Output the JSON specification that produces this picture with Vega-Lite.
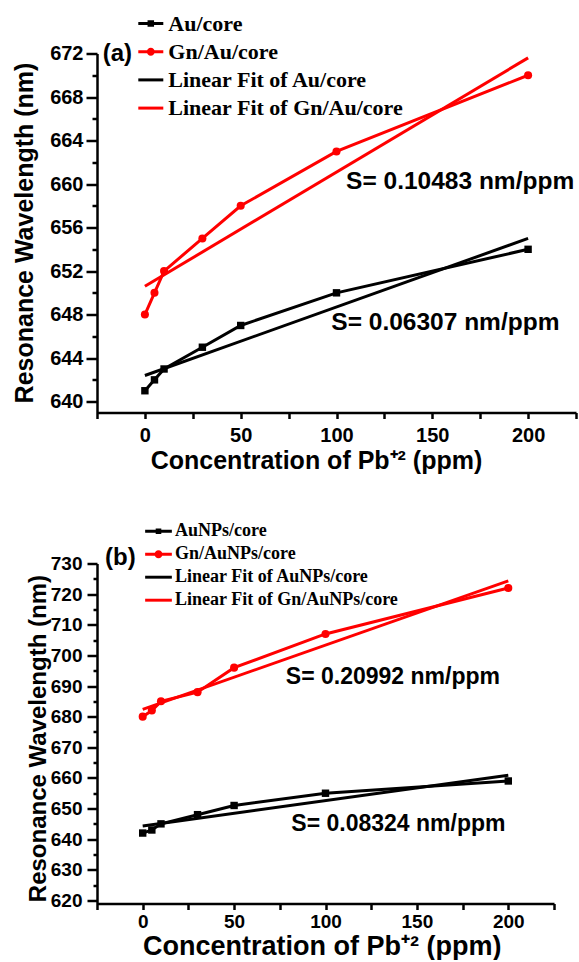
{
  "$schema": "https://vega.github.io/schema/vega-lite/v6.json",
  "background": "white",
  "padding": {"left": 12, "top": 10.5, "right": 0, "bottom": 0},
  "config": {
    "view": {"stroke": null},
    "axis": {"grid": false, "domainColor": "black", "domainWidth": 2.5, "tickColor": "black", "tickWidth": 2.5, "labelColor": "black", "labelFont": "Liberation Sans", "labelFontWeight": "bold", "titleColor": "black", "titleFont": "Liberation Sans", "titleFontWeight": "bold", "labelFlush": false, "labelOverlap": false},
    "legend": {"labelFont": "Liberation Serif", "labelFontWeight": "bold", "labelColor": "black", "padding": 0, "symbolStrokeWidth": 0, "symbolOpacity": 1, "labelLimit": 400}
  },
  "datasets": {
    "a_meas": [
      {"series": "Au/core", "conc": 0, "wl": 641}, {"series": "Au/core", "conc": 5, "wl": 642}, {"series": "Au/core", "conc": 10, "wl": 643}, {"series": "Au/core", "conc": 30, "wl": 645}, {"series": "Au/core", "conc": 50, "wl": 647}, {"series": "Au/core", "conc": 100, "wl": 650}, {"series": "Au/core", "conc": 200, "wl": 654},
      {"series": "Gn/Au/core", "conc": 0, "wl": 648}, {"series": "Gn/Au/core", "conc": 5, "wl": 650}, {"series": "Gn/Au/core", "conc": 10, "wl": 652}, {"series": "Gn/Au/core", "conc": 30, "wl": 655}, {"series": "Gn/Au/core", "conc": 50, "wl": 658}, {"series": "Gn/Au/core", "conc": 100, "wl": 663}, {"series": "Gn/Au/core", "conc": 200, "wl": 670}
    ],
    "a_fit": [
      {"series": "Linear Fit of Au/core", "conc": 0, "wl": 642.4}, {"series": "Linear Fit of Au/core", "conc": 200, "wl": 655.0},
      {"series": "Linear Fit of Gn/Au/core", "conc": 0, "wl": 650.6}, {"series": "Linear Fit of Gn/Au/core", "conc": 200, "wl": 671.6}
    ],
    "a_legend": [{"series": "Au/core"}, {"series": "Gn/Au/core"}, {"series": "Linear Fit of Au/core"}, {"series": "Linear Fit of Gn/Au/core"}],
    "a_slope": [{"label": "S= 0.10483 nm/ppm", "conc": 105, "wl": 660.2}, {"label": "S= 0.06307 nm/ppm", "conc": 97.3, "wl": 647.2}],
    "a_tag": [{"label": "(a)", "conc": -22, "wl": 672}],
    "b_meas": [
      {"series": "AuNPs/core", "conc": 0, "wl": 642}, {"series": "AuNPs/core", "conc": 5, "wl": 643}, {"series": "AuNPs/core", "conc": 10, "wl": 645}, {"series": "AuNPs/core", "conc": 30, "wl": 648}, {"series": "AuNPs/core", "conc": 50, "wl": 651}, {"series": "AuNPs/core", "conc": 100, "wl": 655}, {"series": "AuNPs/core", "conc": 200, "wl": 659},
      {"series": "Gn/AuNPs/core", "conc": 0, "wl": 680}, {"series": "Gn/AuNPs/core", "conc": 5, "wl": 682}, {"series": "Gn/AuNPs/core", "conc": 10, "wl": 685}, {"series": "Gn/AuNPs/core", "conc": 30, "wl": 688}, {"series": "Gn/AuNPs/core", "conc": 50, "wl": 696}, {"series": "Gn/AuNPs/core", "conc": 100, "wl": 707}, {"series": "Gn/AuNPs/core", "conc": 200, "wl": 722}
    ],
    "b_fit": [
      {"series": "Linear Fit of AuNPs/core", "conc": 0, "wl": 644.3}, {"series": "Linear Fit of AuNPs/core", "conc": 200, "wl": 660.9},
      {"series": "Linear Fit of Gn/AuNPs/core", "conc": 0, "wl": 682.4}, {"series": "Linear Fit of Gn/AuNPs/core", "conc": 200, "wl": 724.3}
    ],
    "b_legend": [{"series": "AuNPs/core"}, {"series": "Gn/AuNPs/core"}, {"series": "Linear Fit of AuNPs/core"}, {"series": "Linear Fit of Gn/AuNPs/core"}],
    "b_slope": [{"label": "S= 0.20992 nm/ppm", "conc": 78.3, "wl": 693.1}, {"label": "S= 0.08324 nm/ppm", "conc": 81.3, "wl": 644.8}],
    "b_tag": [{"label": "(b)", "conc": -20.6, "wl": 731.8}]
  },
  "bounds": "flush",
  "spacing": 151,
  "resolve": {"scale": {"color": "independent", "shape": "independent"}},
  "vconcat": [
    {
      "width": 479,
      "height": 359,
      "layer": [
        {
          "data": {"name": "a_legend"},
          "mark": {"type": "point", "filled": true, "opacity": 0, "size": 625},
          "encoding": {
            "color": {"field": "series", "type": "nominal", "scale": {"domain": ["Au/core", "Gn/Au/core", "Linear Fit of Au/core", "Linear Fit of Gn/Au/core"], "range": ["black", "red", "black", "red"]},
              "legend": {"title": null, "orient": "none", "legendX": 41.3, "legendY": -42.5, "direction": "vertical", "symbolSize": 625, "labelFontSize": 22, "labelOffset": 5, "rowPadding": 4.2}},
            "shape": {"field": "series", "type": "nominal", "scale": {"domain": ["Au/core", "Gn/Au/core", "Linear Fit of Au/core", "Linear Fit of Gn/Au/core"], "range": ["M-1,-0.12H-0.26V-0.26H0.26V-0.12H1V0.12H0.26V0.26H-0.26V0.12H-1Z", "M-1,-0.12H1V0.12H-1Z M0.32,0A0.32,0.32 0 1 1 -0.32,0A0.32,0.32 0 1 1 0.32,0Z", "M-1,-0.12H1V0.12H-1Z", "M-1,-0.12H1V0.12H-1Z"]},
              "legend": {"title": null, "orient": "none", "legendX": 41.3, "legendY": -42.5, "direction": "vertical", "symbolSize": 625, "labelFontSize": 22, "labelOffset": 5, "rowPadding": 4.2}}
          }
        },
        {
          "data": {"name": "a_meas"},
          "mark": {"type": "line", "strokeWidth": 3},
          "encoding": {
            "x": {"field": "conc", "type": "quantitative", "scale": {"domain": [-25, 225], "nice": false, "zero": false},
              "axis": {"values": [-25, 0, 25, 50, 75, 100, 125, 150, 175, 200, 225], "tickCount": 100, "format": "d", "labelExpr": "datum.value % 50 === 0 ? datum.label : ''", "labelOverlap": false, "labelFontSize": 20, "tickSize": 6, "labelPadding": 7,
                "title": "Concentration of Pb⁺² (ppm)", "titleFontSize": 25, "titleX": 219, "titleY": 55.5, "titleBaseline": "alphabetic", "titleAlign": "center"}},
            "y": {"field": "wl", "type": "quantitative", "scale": {"domain": [639, 672], "nice": false, "zero": false},
              "axis": {"values": [640, 642, 644, 646, 648, 650, 652, 654, 656, 658, 660, 662, 664, 666, 668, 670, 672], "tickCount": 100, "format": "d", "labelExpr": "datum.value % 4 === 0 ? datum.label : ''", "labelOverlap": false, "labelPadding": 3,
                "labelFontSize": {"condition": {"test": "datum.value % 4 !== 0", "value": 1}, "value": 20},
                "tickSize": {"condition": {"test": "datum.value % 4 !== 0", "value": 5}, "value": 11},
                "title": "Resonance Wavelength (nm)", "titleFontSize": 25, "titleX": -64.8, "titleY": 179, "titleBaseline": "alphabetic", "titleAlign": "center", "titleAngle": 270}},
            "color": {"field": "series", "type": "nominal", "legend": null}
          }
        },
        {
          "data": {"name": "a_fit"},
          "mark": {"type": "line", "strokeWidth": 3},
          "encoding": {
            "x": {"field": "conc", "type": "quantitative"},
            "y": {"field": "wl", "type": "quantitative"},
            "color": {"field": "series", "type": "nominal", "legend": null}
          }
        },
        {
          "data": {"name": "a_meas"},
          "transform": [{"filter": "datum.series === 'Au/core'"}],
          "mark": {"type": "point", "shape": "square", "filled": true, "opacity": 1, "size": 55},
          "encoding": {
            "x": {"field": "conc", "type": "quantitative"},
            "y": {"field": "wl", "type": "quantitative"},
            "color": {"field": "series", "type": "nominal", "legend": null}
          }
        },
        {
          "data": {"name": "a_meas"},
          "transform": [{"filter": "datum.series === 'Gn/Au/core'"}],
          "mark": {"type": "point", "shape": "circle", "filled": true, "opacity": 1, "size": 65},
          "encoding": {
            "x": {"field": "conc", "type": "quantitative"},
            "y": {"field": "wl", "type": "quantitative"},
            "color": {"field": "series", "type": "nominal", "legend": null}
          }
        },
        {
          "data": {"name": "a_slope"},
          "mark": {"type": "text", "align": "left", "baseline": "middle", "font": "Liberation Sans", "fontWeight": "bold", "fontSize": 24.5, "color": "black"},
          "encoding": {
            "x": {"field": "conc", "type": "quantitative"},
            "y": {"field": "wl", "type": "quantitative"},
            "text": {"field": "label"}
          }
        },
        {
          "data": {"name": "a_tag"},
          "mark": {"type": "text", "align": "left", "baseline": "middle", "font": "Liberation Sans", "fontWeight": "bold", "fontSize": 24, "color": "black"},
          "encoding": {
            "x": {"field": "conc", "type": "quantitative"},
            "y": {"field": "wl", "type": "quantitative"},
            "text": {"field": "label"}
          }
        }
      ]
    },
    {
      "width": 457,
      "height": 340,
      "layer": [
        {
          "data": {"name": "b_legend"},
          "mark": {"type": "point", "filled": true, "opacity": 0, "size": 713},
          "encoding": {
            "color": {"field": "series", "type": "nominal", "scale": {"domain": ["AuNPs/core", "Gn/AuNPs/core", "Linear Fit of AuNPs/core", "Linear Fit of Gn/AuNPs/core"], "range": ["black", "red", "black", "red"]},
              "legend": {"title": null, "orient": "none", "legendX": 48, "legendY": -45.8, "direction": "vertical", "symbolSize": 713, "labelFontSize": 18, "labelOffset": 3, "rowPadding": -3}},
            "shape": {"field": "series", "type": "nominal", "scale": {"domain": ["AuNPs/core", "Gn/AuNPs/core", "Linear Fit of AuNPs/core", "Linear Fit of Gn/AuNPs/core"], "range": ["M-1,-0.11H-0.21V-0.21H0.21V-0.11H1V0.11H0.21V0.21H-0.21V0.11H-1Z", "M-1,-0.11H1V0.11H-1Z M0.3,0A0.3,0.3 0 1 1 -0.3,0A0.3,0.3 0 1 1 0.3,0Z", "M-1,-0.11H1V0.11H-1Z", "M-1,-0.11H1V0.11H-1Z"]},
              "legend": {"title": null, "orient": "none", "legendX": 48, "legendY": -45.8, "direction": "vertical", "symbolSize": 713, "labelFontSize": 18, "labelOffset": 3, "rowPadding": -3}}
          }
        },
        {
          "data": {"name": "b_meas"},
          "mark": {"type": "line", "strokeWidth": 3},
          "encoding": {
            "x": {"field": "conc", "type": "quantitative", "scale": {"domain": [-25, 225], "nice": false, "zero": false},
              "axis": {"values": [-25, 0, 25, 50, 75, 100, 125, 150, 175, 200, 225], "tickCount": 100, "format": "d", "labelExpr": "datum.value % 50 === 0 ? datum.label : ''", "labelOverlap": false, "labelFontSize": 19, "tickSize": 6, "labelPadding": 3,
                "title": "Concentration of Pb⁺² (ppm)", "titleFontSize": 27, "titleX": 224.8, "titleY": 50.5, "titleBaseline": "alphabetic", "titleAlign": "center"}},
            "y": {"field": "wl", "type": "quantitative", "scale": {"domain": [619, 730], "nice": false, "zero": false},
              "axis": {"values": [620, 625, 630, 635, 640, 645, 650, 655, 660, 665, 670, 675, 680, 685, 690, 695, 700, 705, 710, 715, 720, 725, 730], "tickCount": 100, "format": "d", "labelExpr": "datum.value % 10 === 0 ? datum.label : ''", "labelOverlap": false, "labelPadding": 5,
                "labelFontSize": {"condition": {"test": "datum.value % 10 !== 0", "value": 1}, "value": 19},
                "tickSize": {"condition": {"test": "datum.value % 10 !== 0", "value": 4}, "value": 10},
                "title": "Resonance Wavelength (nm)", "titleFontSize": 24, "titleX": -51.5, "titleY": 174.6, "titleBaseline": "alphabetic", "titleAlign": "center", "titleAngle": 270}},
            "color": {"field": "series", "type": "nominal", "legend": null}
          }
        },
        {
          "data": {"name": "b_fit"},
          "mark": {"type": "line", "strokeWidth": 3},
          "encoding": {
            "x": {"field": "conc", "type": "quantitative"},
            "y": {"field": "wl", "type": "quantitative"},
            "color": {"field": "series", "type": "nominal", "legend": null}
          }
        },
        {
          "data": {"name": "b_meas"},
          "transform": [{"filter": "datum.series === 'AuNPs/core'"}],
          "mark": {"type": "point", "shape": "square", "filled": true, "opacity": 1, "size": 55},
          "encoding": {
            "x": {"field": "conc", "type": "quantitative"},
            "y": {"field": "wl", "type": "quantitative"},
            "color": {"field": "series", "type": "nominal", "legend": null}
          }
        },
        {
          "data": {"name": "b_meas"},
          "transform": [{"filter": "datum.series === 'Gn/AuNPs/core'"}],
          "mark": {"type": "point", "shape": "circle", "filled": true, "opacity": 1, "size": 65},
          "encoding": {
            "x": {"field": "conc", "type": "quantitative"},
            "y": {"field": "wl", "type": "quantitative"},
            "color": {"field": "series", "type": "nominal", "legend": null}
          }
        },
        {
          "data": {"name": "b_slope"},
          "mark": {"type": "text", "align": "left", "baseline": "middle", "font": "Liberation Sans", "fontWeight": "bold", "fontSize": 23, "color": "black"},
          "encoding": {
            "x": {"field": "conc", "type": "quantitative"},
            "y": {"field": "wl", "type": "quantitative"},
            "text": {"field": "label"}
          }
        },
        {
          "data": {"name": "b_tag"},
          "mark": {"type": "text", "align": "left", "baseline": "middle", "font": "Liberation Sans", "fontWeight": "bold", "fontSize": 24, "color": "black"},
          "encoding": {
            "x": {"field": "conc", "type": "quantitative"},
            "y": {"field": "wl", "type": "quantitative"},
            "text": {"field": "label"}
          }
        }
      ]
    }
  ]
}
